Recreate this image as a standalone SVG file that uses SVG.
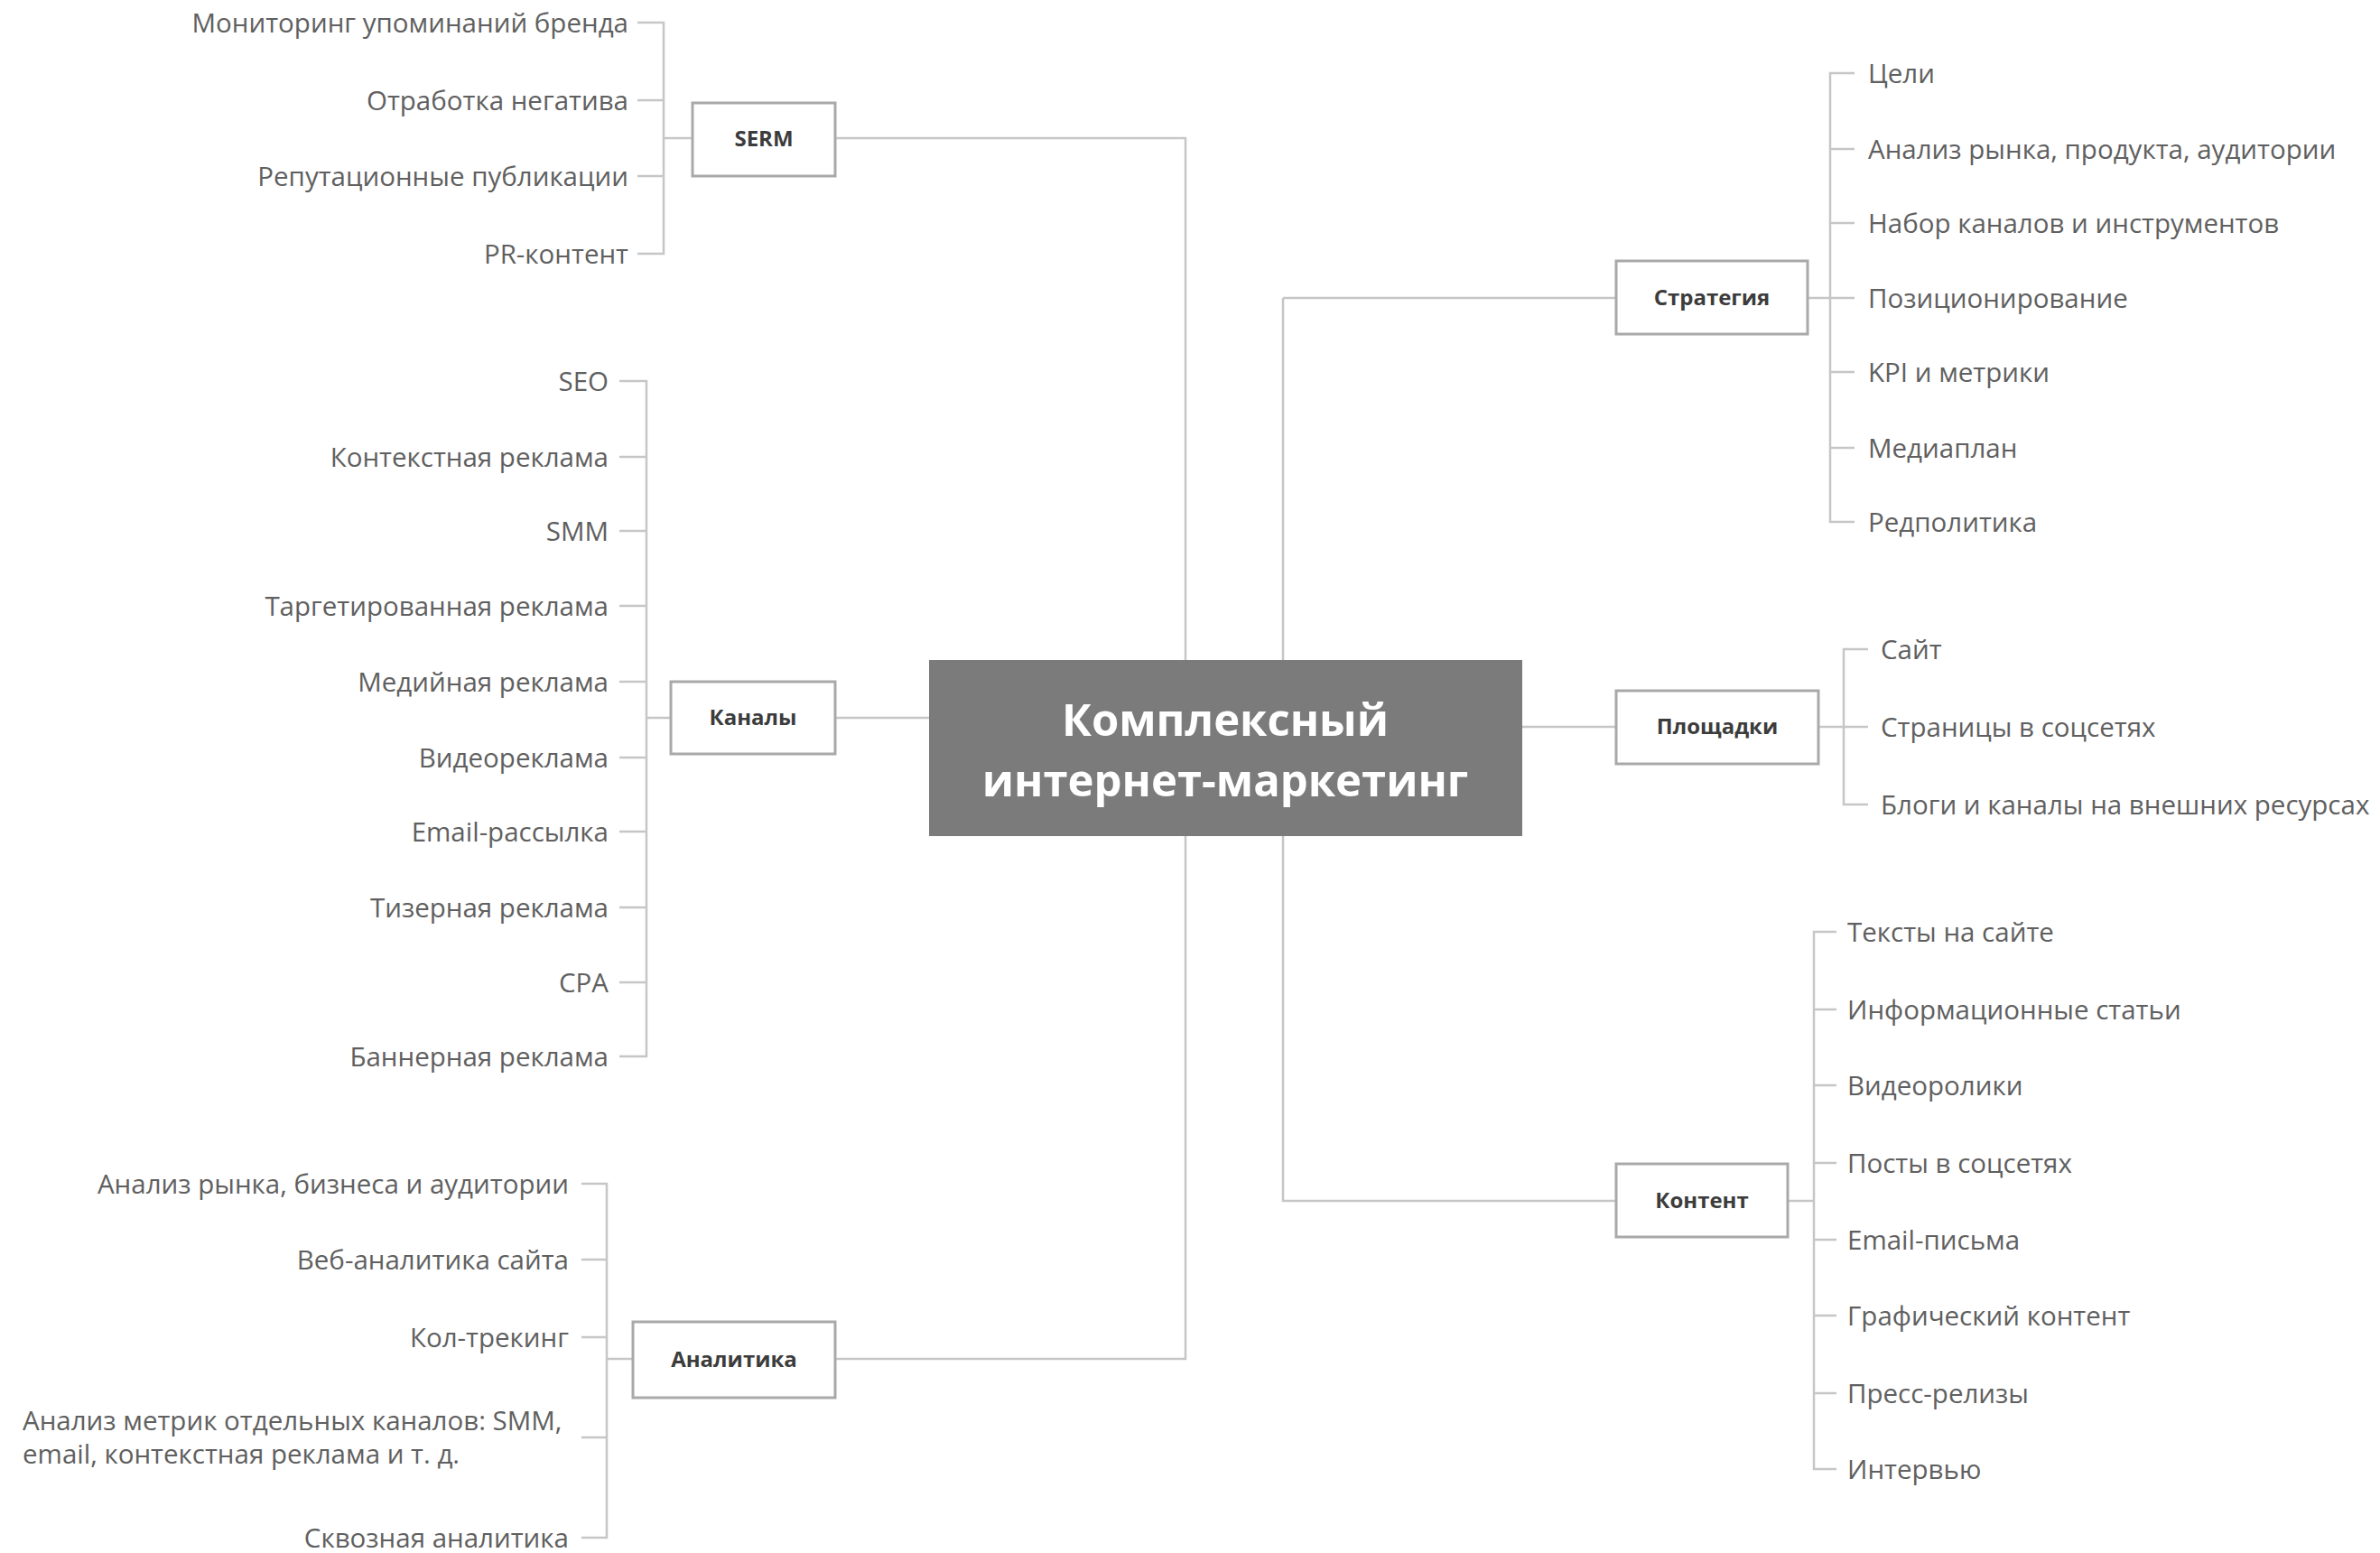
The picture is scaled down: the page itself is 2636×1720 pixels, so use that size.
<svg xmlns="http://www.w3.org/2000/svg" width="2636" height="1720" viewBox="0 0 2636 1720">
<style>
.c{fill:none;stroke:#c6c6c6;stroke-width:2.5}
.box{fill:#fff;stroke:#a9a9a9;stroke-width:3}
.lbl{font-family:"Open Sans","Noto Sans","Liberation Sans",sans-serif;font-weight:700;font-size:24px;fill:#3c3c3c;text-anchor:middle}
.t{font-family:"Open Sans","Noto Sans","Liberation Sans",sans-serif;font-size:29.5px;fill:#606060}
.r{text-anchor:end}
.main{font-family:"Open Sans","Noto Sans","Liberation Sans",sans-serif;font-weight:700;font-size:49px;fill:#fff;text-anchor:middle}
</style>
<rect width="2636" height="1720" fill="#fff"/>
<g id="connectors">
<path class="c" d="M925 153H1313V1505H925"/>
<path class="c" d="M925 795H1029"/>
<path class="c" d="M1421 330H1790M1421 330V1330H1790"/>
<path class="c" d="M1686 805H1790"/>
<path class="c" d="M706 25H735V281H706M706 111H735M706 195H735M735 153H767"/>
<path class="c" d="M686 422H716V1170H686M686 506H716M686 588H716M686 671H716M686 755H716M686 839H716M686 921H716M686 1005H716M686 1088H716M716 795H743"/>
<path class="c" d="M644 1311H672V1703H644M644 1395H672M644 1481H672M644 1592H672M672 1505H701"/>
<path class="c" d="M2054 81H2027V578H2054M2027 165H2054M2027 247H2054M2002 330H2054M2027 412H2054M2027 496H2054"/>
<path class="c" d="M2069 719H2042V891H2069M2014 805H2069"/>
<path class="c" d="M2034 1032H2009V1627H2034M2009 1118H2034M2009 1202H2034M2009 1288H2034M1980 1330H2009M2009 1373H2034M2009 1457H2034M2009 1543H2034"/>
</g>
<g id="center">
<rect x="1029" y="731" width="657" height="195" fill="#7b7b7b"/>
<text class="main" x="1357" y="815">Комплексный</text>
<text class="main" x="1357" y="882">интернет-маркетинг</text>
</g>
<g id="serm">
<rect class="box" x="767" y="114" width="158" height="81"/>
<text class="lbl" x="846" y="162">SERM</text>
<text class="t r" x="696" y="36">Мониторинг упоминаний бренда</text>
<text class="t r" x="696" y="122">Отработка негатива</text>
<text class="t r" x="696" y="206">Репутационные публикации</text>
<text class="t r" x="696" y="292">PR-контент</text>
</g>
<g id="kanaly">
<rect class="box" x="743" y="755" width="182" height="80"/>
<text class="lbl" x="834" y="803">Каналы</text>
<text class="t r" x="674" y="433">SEO</text>
<text class="t r" x="674" y="517">Контекстная реклама</text>
<text class="t r" x="674" y="599">SMM</text>
<text class="t r" x="674" y="682">Таргетированная реклама</text>
<text class="t r" x="674" y="766">Медийная реклама</text>
<text class="t r" x="674" y="850">Видеореклама</text>
<text class="t r" x="674" y="932">Email-рассылка</text>
<text class="t r" x="674" y="1016">Тизерная реклама</text>
<text class="t r" x="674" y="1099">CPA</text>
<text class="t r" x="674" y="1181">Баннерная реклама</text>
</g>
<g id="analitika">
<rect class="box" x="701" y="1464" width="224" height="84"/>
<text class="lbl" x="813" y="1514">Аналитика</text>
<text class="t r" x="630" y="1322">Анализ рынка, бизнеса и аудитории</text>
<text class="t r" x="630" y="1406">Веб-аналитика сайта</text>
<text class="t r" x="630" y="1492">Кол-трекинг</text>
<text class="t" x="25" y="1584">Анализ метрик отдельных каналов: SMM,</text>
<text class="t" x="25" y="1621">email, контекстная реклама и т. д.</text>
<text class="t r" x="630" y="1714">Сквозная аналитика</text>
</g>
<g id="strategiya">
<rect class="box" x="1790" y="289" width="212" height="81"/>
<text class="lbl" x="1896" y="338">Стратегия</text>
<text class="t" x="2069" y="92">Цели</text>
<text class="t" x="2069" y="176">Анализ рынка, продукта, аудитории</text>
<text class="t" x="2069" y="258">Набор каналов и инструментов</text>
<text class="t" x="2069" y="341">Позиционирование</text>
<text class="t" x="2069" y="423">KPI и метрики</text>
<text class="t" x="2069" y="507">Медиаплан</text>
<text class="t" x="2069" y="589">Редполитика</text>
</g>
<g id="ploshchadki">
<rect class="box" x="1790" y="765" width="224" height="81"/>
<text class="lbl" x="1902" y="813">Площадки</text>
<text class="t" x="2083" y="730">Сайт</text>
<text class="t" x="2083" y="816">Страницы в соцсетях</text>
<text class="t" x="2083" y="902">Блоги и каналы на внешних ресурсах</text>
</g>
<g id="kontent">
<rect class="box" x="1790" y="1289" width="190" height="81"/>
<text class="lbl" x="1885" y="1338">Контент</text>
<text class="t" x="2046" y="1043">Тексты на сайте</text>
<text class="t" x="2046" y="1129">Информационные статьи</text>
<text class="t" x="2046" y="1213">Видеоролики</text>
<text class="t" x="2046" y="1299">Посты в соцсетях</text>
<text class="t" x="2046" y="1384">Email-письма</text>
<text class="t" x="2046" y="1468">Графический контент</text>
<text class="t" x="2046" y="1554">Пресс-релизы</text>
<text class="t" x="2046" y="1638">Интервью</text>
</g>
</svg>
